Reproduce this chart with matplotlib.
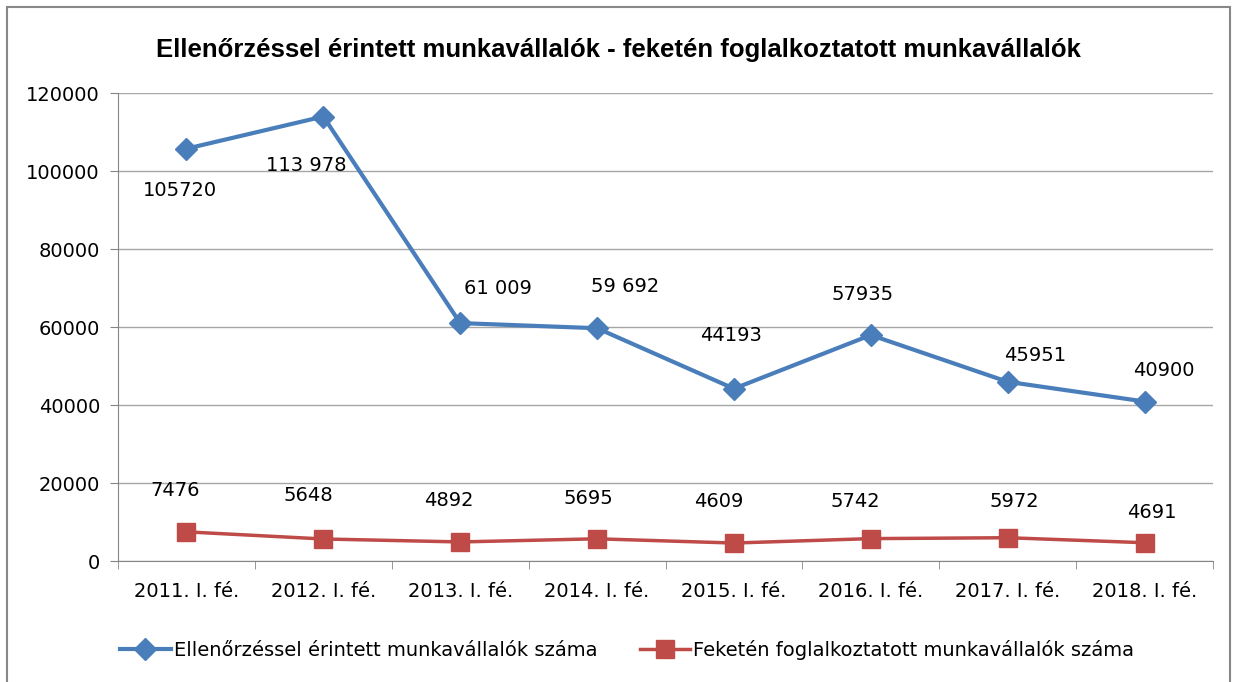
import matplotlib

matplotlib.use("Agg")

import matplotlib.pyplot as plt
from matplotlib.lines import Line2D
from matplotlib.patches import Rectangle
import numpy as np

plt.rc("font", family=["DejaVu Sans"], size=14)

categories = ["2011. I. fé.", "2012. I. fé.", "2013. I. fé.", "2014. I. fé.",
              "2015. I. fé.", "2016. I. fé.", "2017. I. fé.", "2018. I. fé."]
checked = [105720, 113978, 61009, 59692, 44193, 57935, 45951, 40900]
checked_labels = ["105720", "113 978", "61 009", "59 692", "44193", "57935", "45951", "40900"]
black = [7476, 5648, 4892, 5695, 4609, 5742, 5972, 4691]
black_labels = ["7476", "5648", "4892", "5695", "4609", "5742", "5972", "4691"]

blue = "#4A7EBB"
red = "#BE4B48"

fig = plt.figure(figsize=(12.37, 6.82), dpi=100)
ax = fig.add_axes([0.0954, 0.1774, 0.8852, 0.6862])

x = np.arange(len(categories))
ax.plot(x, checked, color=blue, lw=3, marker="D", ms=11, zorder=3)
ax.plot(x, black, color=red, lw=2.5, marker="s", ms=13, zorder=3)

# data label offsets in points, roughly where the original put them
blue_off = [(-5, -30), (-12, -35), (27, 25), (20, 30), (-2, 38), (-6, 29), (20, 19), (14, 22)]
red_off = [(-8, 30), (-11, 31), (-8, 30), (-6, 29), (-11, 30), (-11, 27), (5, 26), (5, 22)]
for i, (v, lab) in enumerate(zip(checked, checked_labels)):
    ax.annotate(lab, (x[i], v), xytext=blue_off[i], textcoords="offset points",
                ha="center", va="center", fontsize=14)
for i, (v, lab) in enumerate(zip(black, black_labels)):
    ax.annotate(lab, (x[i], v), xytext=red_off[i], textcoords="offset points",
                ha="center", va="center", fontsize=14)

ax.set_xlim(-0.5, len(categories) - 0.5)
ax.set_ylim(0, 120000)
ax.set_yticks(range(0, 120001, 20000))
ax.set_xticks(x)
ax.set_xticklabels(categories)
ax.set_xticks(np.arange(-0.5, len(categories), 1), minor=True)
ax.tick_params(axis="x", which="major", length=0, pad=15, labelsize=14)
ax.tick_params(axis="x", which="minor", length=6, color="#868686")
ax.tick_params(axis="y", length=6, color="#868686", pad=7, labelsize=14)

ax.grid(axis="y", color="#A6A6A6", lw=1)
ax.set_axisbelow(True)
for s in ["top", "right"]:
    ax.spines[s].set_visible(False)
for s in ["left", "bottom"]:
    ax.spines[s].set_color("#868686")

fig.text(0.5, 0.927, "Ellenőrzéssel érintett munkavállalók - feketén foglalkoztatott munkavállalók",
         ha="center", va="center", fontsize=18.5, fontweight="bold",
         family=["Liberation Sans", "DejaVu Sans"])

handles = [
    Line2D([0], [0], color=blue, lw=3, marker="D", ms=11),
    Line2D([0], [0], color=red, lw=2.5, marker="s", ms=13),
]
fig.legend(handles, ["Ellenőrzéssel érintett munkavállalók száma",
                     "Feketén foglalkoztatott munkavállalók száma"],
           loc="center", bbox_to_anchor=(0.507, 0.047), ncol=2, frameon=False,
           fontsize=14, handlelength=2.6, handletextpad=0.15, columnspacing=2.2)

fig.patches.append(Rectangle((0.0057, -0.01), 0.989, 0.9997, transform=fig.transFigure,
                             fill=False, edgecolor="#888888", lw=1.5))

fig.savefig("out.png", dpi=100)
